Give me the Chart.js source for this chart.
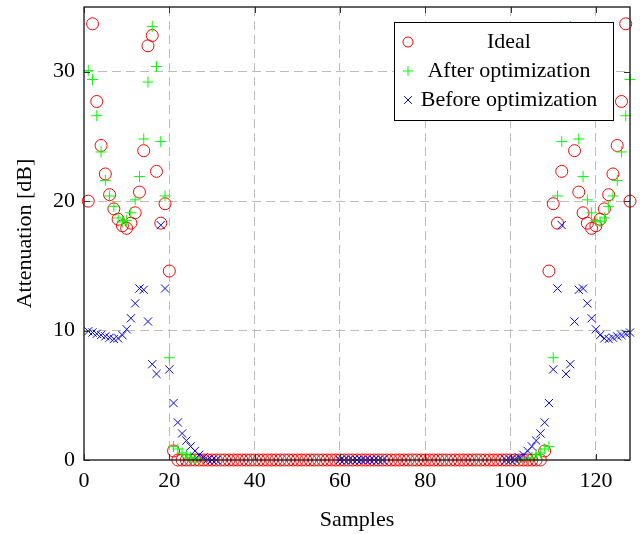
<!DOCTYPE html>
<html>
<head>
<meta charset="utf-8">
<title>Attenuation</title>
<script src="https://cdn.jsdelivr.net/npm/chart.js@4.4.0/dist/chart.umd.min.js"></script>
<style>
    html, body { margin: 0; padding: 0; background: #fff; }
    canvas { display: block; }
</style>
</head>
<body>
<canvas id="chart" width="640" height="534"></canvas>
<script>
var n = null;

// attenuation per sample (samples 1..128), null where nothing is plotted
var ideal = [
    20.0, 33.7, 27.7, 24.3, 22.1, 20.5, 19.4, 18.6,
    18.1, 17.9, 18.3, 19.1, 20.7, 23.9, 32.0, 32.8,
    22.3, 18.3, 19.8, 14.6, 0.7, 0, 0, 0,
    0, 0, 0, 0, 0, 0, 0, 0,
    0, 0, 0, 0, 0, 0, 0, 0,
    0, 0, 0, 0, 0, 0, 0, 0,
    0, 0, 0, 0, 0, 0, 0, 0,
    0, 0, 0, 0, 0, 0, 0, 0,
    0, 0, 0, 0, 0, 0, 0, 0,
    0, 0, 0, 0, 0, 0, 0, 0,
    0, 0, 0, 0, 0, 0, 0, 0,
    0, 0, 0, 0, 0, 0, 0, 0,
    0, 0, 0, 0, 0, 0, 0, 0,
    0, 0, 0, 0.7, 14.6, 19.8, 18.3, 22.3,
    32.8, 32.0, 23.9, 20.7, 19.1, 18.3, 17.9, 18.1,
    18.6, 19.4, 20.5, 22.1, 24.3, 27.7, 33.7, 20.0
];

var afterOpt = [
    30.1, 29.4, 26.6, 23.8, 21.6, 20.4, 19.6, 18.7,
    18.4, 18.5, 19.1, 20.1, 21.9, 24.8, 29.2, 33.5,
    30.4, 24.6, 20.4, 7.9, 1.05, 0.85, 0.55, 0.4,
    0.2, 0.08, 0.02, 0, n, n, n, n,
    n, n, n, n, n, n, n, n,
    n, n, n, n, n, n, n, n,
    n, n, n, n, n, n, n, n,
    n, n, n, n, n, n, n, n,
    0, n, n, n, n, n, n, n,
    n, n, n, n, n, n, n, n,
    n, n, n, n, n, n, n, n,
    n, n, n, n, n, n, n, n,
    n, n, n, n, n, 0, 0.02, 0.08,
    0.2, 0.4, 0.55, 0.85, 1.05, 7.9, 20.4, 24.6,
    30.4, 33.5, 29.2, 24.8, 21.9, 20.1, 19.1, 18.5,
    18.4, 18.7, 19.6, 20.4, 21.6, 23.8, 26.6, 29.4
];

var beforeOpt = [
    9.95, 9.85, 9.75, 9.65, 9.55, 9.45, 9.35, 9.4,
    9.65, 10.1, 10.95, 12.1, 13.25, 13.15, 10.7, 7.4,
    6.65, 18.15, 13.25, 7.0, 4.4, 2.9, 2.05, 1.5,
    1.05, 0.7, 0.4, 0.2, 0.05, 0, 0, n,
    n, n, n, n, n, n, n, n,
    n, n, n, n, n, n, n, n,
    n, n, n, n, n, n, n, n,
    n, n, n, 0, 0, 0, 0, 0,
    0, 0, 0, 0, 0, 0, n, n,
    n, n, n, n, n, n, n, n,
    n, n, n, n, n, n, n, n,
    n, n, n, n, n, n, n, n,
    n, n, 0, 0, 0.05, 0.2, 0.4, 0.7,
    1.05, 1.5, 2.05, 2.9, 4.4, 7.0, 13.25, 18.15,
    6.65, 7.4, 10.7, 13.15, 13.25, 12.1, 10.95, 10.1,
    9.65, 9.4, 9.35, 9.45, 9.55, 9.65, 9.75, 9.85
];

var xTicks = [0, 20, 40, 60, 80, 100, 120];
var yTicks = [0, 10, 20, 30];
var seriesLabels = ['Ideal', 'After optimization', 'Before optimization'];
var seriesColors = ['#ff0000', '#00ff00', '#0000ff'];
var seriesStyles = ['circle', 'cross', 'crossRot'];

var serif = '"Liberation Serif", "Times New Roman", serif';

function toPoints(values) {
    var points = [];
    for (var i = 0; i < values.length; i++) {
        if (values[i] !== null) points.push({ x: i + 1, y: values[i] });
    }
    return points;
}

function gridColor(context) {
    if (context.tick && context.tick.value === 0) return 'rgba(0,0,0,0)';
    return '#bcbcbc';
}

// small marker used in the legend box
function drawMarker(ctx, style, color, x, y) {
    ctx.save();
    ctx.strokeStyle = color;
    ctx.lineWidth = 1;
    ctx.beginPath();
    if (style === 'circle') {
        ctx.arc(x, y, 5, 0, Math.PI * 2);
    } else if (style === 'cross') {
        ctx.moveTo(x - 5, y); ctx.lineTo(x + 5, y);
        ctx.moveTo(x, y - 5); ctx.lineTo(x, y + 5);
    } else {
        ctx.moveTo(x - 3.8, y - 3.8); ctx.lineTo(x + 3.8, y + 3.8);
        ctx.moveTo(x - 3.8, y + 3.8); ctx.lineTo(x + 3.8, y - 3.8);
    }
    ctx.stroke();
    ctx.restore();
}

var boxLegend = {
    id: 'boxLegend',
    afterDatasetsDraw: function (chart) {
        var ctx = chart.ctx;
        var area = chart.chartArea;
        var w = 219, h = 98;
        var left = area.right - 17 - w;
        var top = area.top + 15;
        ctx.save();
        ctx.fillStyle = '#ffffff';
        ctx.fillRect(left, top, w, h);
        ctx.strokeStyle = '#000000';
        ctx.lineWidth = 1;
        ctx.strokeRect(left + 0.5, top + 0.5, w, h);
        ctx.font = '22px ' + serif;
        ctx.fillStyle = '#000000';
        ctx.textAlign = 'center';
        ctx.textBaseline = 'middle';
        for (var i = 0; i < seriesLabels.length; i++) {
            var y = top + 20 + i * 29;
            drawMarker(ctx, seriesStyles[i], seriesColors[i], left + 14, y);
            ctx.fillText(seriesLabels[i], left + 115, y);
        }
        ctx.restore();
    },
    afterDraw: function (chart) {
        var ctx = chart.ctx;
        var a = chart.chartArea;
        var xs = chart.scales.x, ys = chart.scales.y;
        ctx.save();
        ctx.strokeStyle = '#333333';
        ctx.lineWidth = 1;
        ctx.beginPath();
        xTicks.forEach(function (v) {
            var px = Math.round(xs.getPixelForValue(v)) + 0.5;
            ctx.moveTo(px, a.bottom); ctx.lineTo(px, a.bottom - 6);
            ctx.moveTo(px, a.top); ctx.lineTo(px, a.top + 6);
        });
        yTicks.forEach(function (v) {
            var py = Math.round(ys.getPixelForValue(v)) + 0.5;
            ctx.moveTo(a.left, py); ctx.lineTo(a.left + 6, py);
            ctx.moveTo(a.right, py); ctx.lineTo(a.right - 6, py);
        });
        ctx.stroke();
        ctx.lineWidth = 1.4;
        ctx.strokeStyle = '#222222';
        ctx.strokeRect(a.left, a.top, a.right - a.left, a.bottom - a.top);
        ctx.restore();
    }
};

document.addEventListener('DOMContentLoaded', function () {

    var ctx = document.getElementById('chart').getContext('2d');
    var chart = new Chart(ctx, {
        type: 'scatter',
        data: {
            datasets: [{
                label: seriesLabels[0],
                data: toPoints(ideal),
                pointStyle: 'circle',
                pointRadius: 6,
                pointBorderWidth: 1,
                pointBorderColor: seriesColors[0],
                pointBackgroundColor: 'rgba(0,0,0,0)',
                order: 3,
                clip: false
            }, {
                label: seriesLabels[1],
                data: toPoints(afterOpt),
                pointStyle: 'cross',
                pointRadius: 5.5,
                pointBorderWidth: 1,
                pointBorderColor: seriesColors[1],
                pointBackgroundColor: 'rgba(0,0,0,0)',
                order: 2,
                clip: false
            }, {
                label: seriesLabels[2],
                data: toPoints(beforeOpt),
                pointStyle: 'crossRot',
                pointRadius: 5.8,
                pointBorderWidth: 1,
                pointBorderColor: seriesColors[2],
                pointBackgroundColor: 'rgba(0,0,0,0)',
                order: 1,
                clip: false
            }]
        },
        options: {
            responsive: false,
            animation: false,
            events: [],
            layout: {
                padding: { left: 0, right: 10, top: 7, bottom: 0 }
            },
            plugins: {
                legend: { display: false },
                tooltip: { enabled: false }
            },
            scales: {
                x: {
                    type: 'linear',
                    min: 0,
                    max: 128,
                    afterBuildTicks: function (scale) {
                        scale.ticks = xTicks.map(function (v) { return { value: v }; });
                    },
                    afterFit: function (scale) {
                        scale.height = 74;
                        scale.paddingLeft = 0;
                        scale.paddingRight = 0;
                    },
                    grid: { color: gridColor, lineWidth: 1, drawTicks: false },
                    border: { display: false, dash: [9, 5] },
                    ticks: {
                        padding: 8,
                        maxRotation: 0,
                        color: '#000000',
                        font: { family: serif, size: 22 }
                    },
                    title: {
                        display: true,
                        text: 'Samples',
                        color: '#000000',
                        padding: { top: 0, bottom: 1 },
                        font: { family: serif, size: 22 }
                    }
                },
                y: {
                    type: 'linear',
                    min: 0,
                    max: 35,
                    afterBuildTicks: function (scale) {
                        scale.ticks = yTicks.map(function (v) { return { value: v }; });
                    },
                    afterFit: function (scale) {
                        scale.width = 84;
                        // the top tick (35) has no label, so no room is needed above the axis
                        scale.paddingTop = 0;
                        scale.paddingBottom = 0;
                    },
                    grid: { color: gridColor, lineWidth: 1, drawTicks: false },
                    border: { display: false, dash: [9, 5] },
                    ticks: {
                        padding: 9,
                        color: '#000000',
                        font: { family: serif, size: 22 }
                    },
                    title: {
                        display: true,
                        text: 'Attenuation [dB]',
                        color: '#000000',
                        padding: { top: 12, bottom: 0 },
                        font: { family: serif, size: 22 }
                    }
                }
            }
        },
        plugins: [boxLegend]
    });

});
</script>
</body>
</html>
